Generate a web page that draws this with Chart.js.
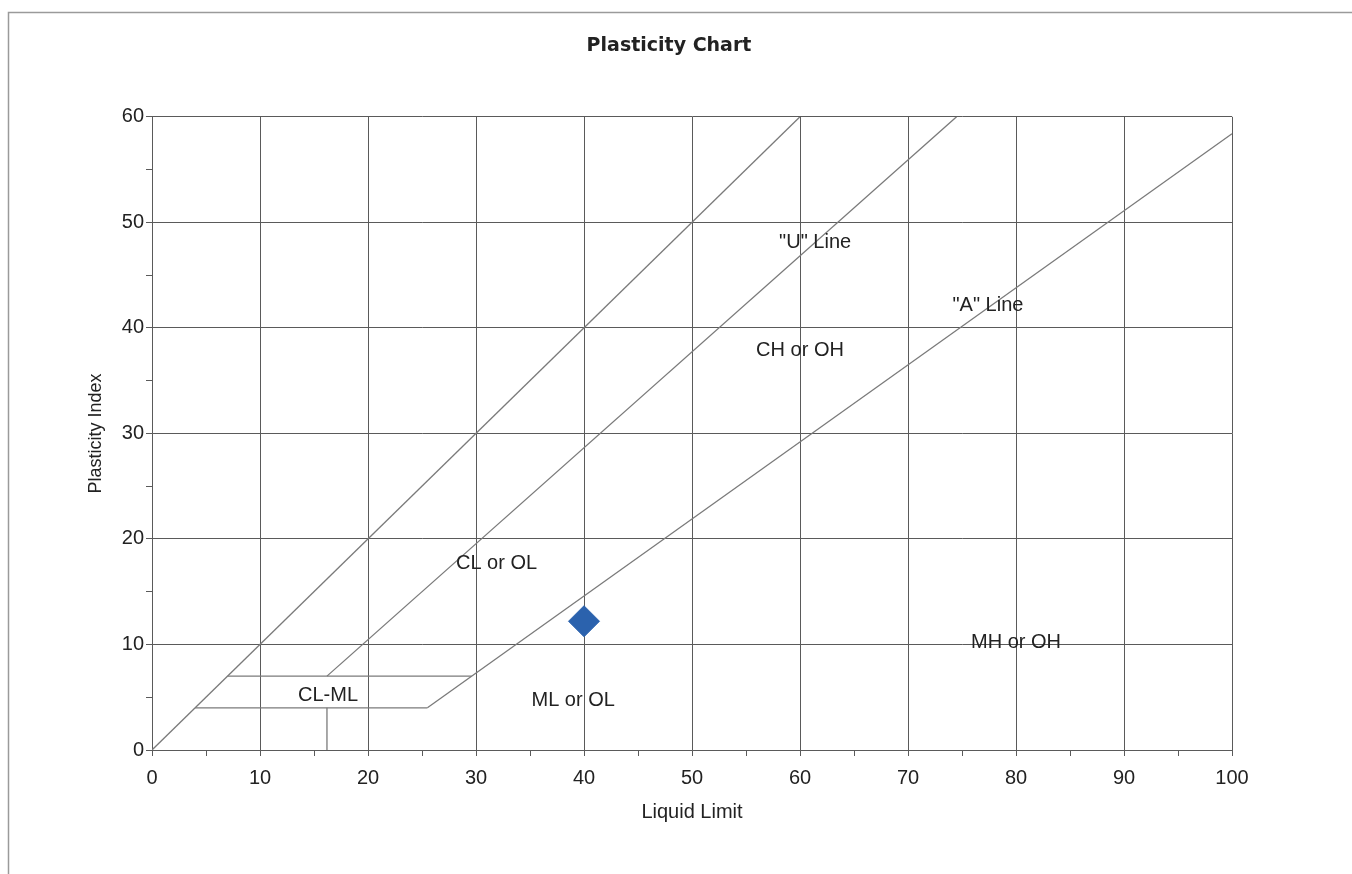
<!DOCTYPE html>
<html>
<head>
<meta charset="utf-8">
<title>Plasticity Chart</title>
<script src="https://cdn.jsdelivr.net/npm/chart.js@4.4.1/dist/chart.umd.min.js"></script>
<style>
  html, body { margin: 0; padding: 0; background: #fff; }
  #wrap { position: relative; width: 1352px; height: 874px; }
</style>
</head>
<body>
<div id="wrap"><canvas id="plasticityCanvas"></canvas></div>
<script>
  // Liquid limit (x) / plasticity index (y) pairs for each boundary line
  var diagonalLL = [0, 60];
  var diagonalPI = [0, 60];
  var uLineLL = [16.2, 74.5];
  var uLinePI = [7, 60];
  var aLineLL = [25.5, 100];
  var aLinePI = [4, 58.4];
  var upperBandLL = [7, 29.6];
  var upperBandPI = [7, 7];
  var lowerBandLL = [4, 25.5];
  var lowerBandPI = [4, 4];
  var splitLL = [16.2, 16.2];
  var splitPI = [0, 4];

  // tested sample
  var sampleLL = [40];
  var samplePI = [12.2];

  // zone names and where they sit (LL, PI)
  var zoneNames = ['"U" Line', '"A" Line', 'CH or OH', 'CL or OL', 'CL-ML', 'ML or OL', 'MH or OH'];
  var zoneLL = [61.4, 77.4, 60, 31.9, 16.3, 39, 80];
  var zonePI = [48.1, 42.1, 37.9, 17.7, 5.2, 4.7, 10.2];

  var xTicks = [0, 10, 20, 30, 40, 50, 60, 70, 80, 90, 100];
  var yTicks = [0, 10, 20, 30, 40, 50, 60];

  var FONT = '"Liberation Sans", Arial, sans-serif';
  var GRID = '#5a5a5a';
  var LINE = '#7a7a7a';

  function pairs(xs, ys) {
    var out = [];
    for (var i = 0; i < xs.length; i += 1) out.push({ x: xs[i], y: ys[i] });
    return out;
  }

  function lineSet(xs, ys) {
    return {
      data: pairs(xs, ys),
      showLine: true,
      borderColor: LINE,
      borderWidth: 1.3,
      pointRadius: 0,
      tension: 0,
    };
  }

  function isMajor(ctx, list) {
    return ctx.tick && list.indexOf(ctx.tick.value) !== -1;
  }

  var framePlugin = {
    id: 'frame',
    beforeDraw: function (chart) {
      var c = chart.ctx;
      c.save();
      c.strokeStyle = '#9a9a9a';
      c.lineWidth = 1.5;
      c.strokeRect(8.5, 12.5, chart.width + 10, chart.height - 8);
      c.restore();
    },
  };

  var zonePlugin = {
    id: 'zones',
    afterDatasetsDraw: function (chart) {
      var c = chart.ctx;
      var xs = chart.scales.x;
      var ys = chart.scales.y;
      c.save();
      c.font = '20px ' + FONT;
      c.fillStyle = '#222';
      c.textAlign = 'center';
      c.textBaseline = 'middle';
      for (var i = 0; i < zoneNames.length; i += 1) {
        c.fillText(zoneNames[i], xs.getPixelForValue(zoneLL[i]), ys.getPixelForValue(zonePI[i]));
      }
      c.restore();
    },
  };

  var datasets = [
    lineSet(diagonalLL, diagonalPI),
    lineSet(uLineLL, uLinePI),
    lineSet(aLineLL, aLinePI),
    lineSet(upperBandLL, upperBandPI),
    lineSet(lowerBandLL, lowerBandPI),
    lineSet(splitLL, splitPI),
    {
      data: pairs(sampleLL, samplePI),
      showLine: false,
      pointStyle: 'rectRot',
      pointRadius: 15.5,
      pointHoverRadius: 15.5,
      backgroundColor: '#2b62ad',
      borderColor: '#2b62ad',
      borderWidth: 1,
    },
  ];

  new Chart(document.getElementById('plasticityCanvas').getContext('2d'), {
    type: 'scatter',
    data: { datasets: datasets },
    plugins: [framePlugin, zonePlugin],
    options: {
      responsive: true,
      maintainAspectRatio: false,
      animation: false,
      layout: { padding: { left: 0, right: 14, top: 0, bottom: 0 } },
      plugins: {
        legend: { display: false },
        tooltip: { enabled: false },
        title: {
          display: true,
          text: 'Plasticity Chart',
          color: '#222',
          font: { family: '"DejaVu Sans", sans-serif', size: 19, weight: 'bold' },
          padding: { top: 35, bottom: 59 },
        },
      },
      scales: {
        x: {
          type: 'linear',
          min: 0,
          max: 100,
          afterFit: function (s) { s.height = 124; },
          afterBuildTicks: function (s) {
            var t = [];
            for (var v = 0; v <= 100; v += 5) t.push({ value: v });
            s.ticks = t;
          },
          grid: {
            color: function (ctx) { return isMajor(ctx, xTicks) ? GRID : 'rgba(0,0,0,0)'; },
            tickColor: GRID,
            lineWidth: 1,
            tickLength: 6,
          },
          border: { color: GRID, width: 1 },
          ticks: {
            color: '#222',
            padding: 10,
            maxRotation: 0,
            autoSkip: false,
            font: { family: FONT, size: 20 },
            callback: function (v) { return xTicks.indexOf(v) !== -1 ? String(v) : ''; },
          },
          title: {
            display: true,
            text: 'Liquid Limit',
            color: '#222',
            font: { family: FONT, size: 20 },
            padding: { top: 0, bottom: 50 },
          },
        },
        y: {
          type: 'linear',
          min: 0,
          max: 60,
          afterFit: function (s) { s.width = 152; },
          afterBuildTicks: function (s) {
            var t = [];
            for (var v = 0; v <= 60; v += 5) t.push({ value: v });
            s.ticks = t;
          },
          grid: {
            color: function (ctx) { return isMajor(ctx, yTicks) ? GRID : 'rgba(0,0,0,0)'; },
            tickColor: GRID,
            lineWidth: 1,
            tickLength: 6,
          },
          border: { color: GRID, width: 1 },
          ticks: {
            color: '#222',
            padding: 2,
            autoSkip: false,
            font: { family: FONT, size: 20 },
            callback: function (v) { return yTicks.indexOf(v) !== -1 ? String(v) : ''; },
          },
          title: {
            display: true,
            text: 'Plasticity Index',
            color: '#222',
            font: { family: FONT, size: 18 },
            padding: { top: 85, bottom: 0 },
          },
        },
        // empty right-hand margin so the title centres where the original does
        spacer: {
          type: 'linear',
          position: 'right',
          afterFit: function (s) { s.width = 106; },
          grid: { display: false },
          border: { display: false },
          ticks: { display: false },
        },
      },
    },
  });
</script>
</body>
</html>
